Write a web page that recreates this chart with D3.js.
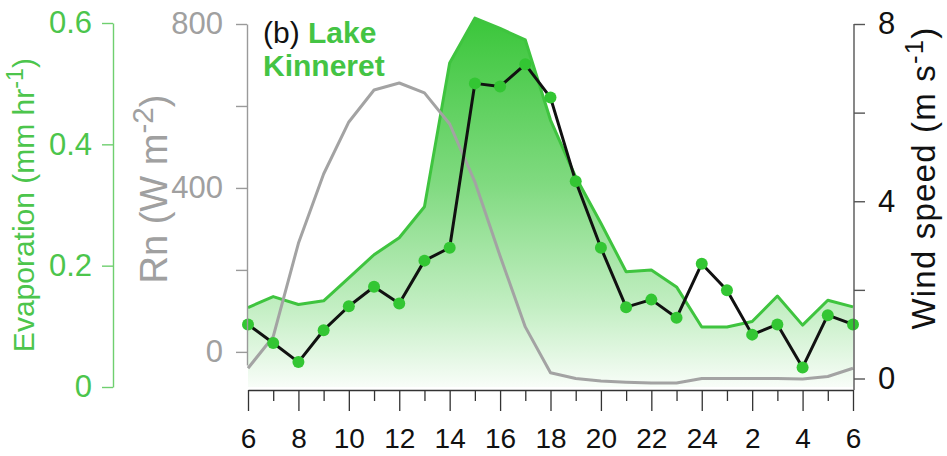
<!DOCTYPE html>
<html>
<head>
<meta charset="utf-8">
<script src="https://cdn.jsdelivr.net/npm/d3@7"></script>
<style>
  html, body { margin: 0; padding: 0; background: #fff; }
  svg { display: block; font-family: "Liberation Sans", Arial, sans-serif; }
</style>
</head>
<body>
<svg id="chart" width="947" height="456"></svg>
<script>
// Hour of day, 06:00 through 06:00 the next morning
const hours = [6, 7, 8, 9, 10, 11, 12, 13, 14, 15, 16, 17, 18, 19, 20, 21, 22, 23, 24, 1, 2, 3, 4, 5, 6];
// Evaporation (mm hr-1)
const evaporation = [0.131, 0.149, 0.136, 0.142, 0.180, 0.218, 0.246, 0.297, 0.534, 0.608, 0.591, 0.572, 0.440,
                     0.346, 0.270, 0.190, 0.193, 0.165, 0.099, 0.099, 0.108, 0.150, 0.102, 0.143, 0.132];
// Net radiation Rn (W m-2)
const netRadiation = [-40, 37, 265, 434, 561, 639, 656, 632, 556, 415, 234, 61, -51,
                      -65, -71, -74, -76, -76, -65, -65, -65, -65, -66, -60, -40];
// Wind speed (m s-1)
const windSpeed = [1.22, 0.80, 0.37, 1.09, 1.63, 2.07, 1.69, 2.66, 2.95, 6.66, 6.59, 7.09, 6.34,
                   4.45, 2.95, 1.61, 1.78, 1.37, 2.59, 1.99, 0.99, 1.22, 0.25, 1.43, 1.22];
// Axis ticks
const evapTicks = [0, 0.2, 0.4, 0.6];
const rnTicks = [0, 200, 400, 600, 800];
const rnLabelled = [0, 400, 800];
const windTicks = [0, 2, 4, 6, 8];
const windLabelled = [0, 4, 8];

const svg = d3.select("#chart");
const idx = hours.map((h, i) => i);

const x = d3.scaleLinear().domain([0, hours.length - 1]).range([248, 853]);
const yE = d3.scaleLinear().domain([0, 0.6]).range([387, 23]);
const yRn = d3.scaleLinear().domain([-32, 800]).range([365, 24]);
const yW = d3.scaleLinear().domain([0, 8]).range([378.5, 24]);

const green = "#3fc43f";
const dotGreen = "#33c633";
const grey = "#a3a3a3";
const font = "Liberation Sans, Arial, sans-serif";

// Vertical gradient for the evaporation area
const defs = svg.append("defs");
const grad = defs.append("linearGradient")
  .attr("id", "evapFill").attr("gradientUnits", "userSpaceOnUse")
  .attr("x1", 0).attr("x2", 0).attr("y1", yE(0.61)).attr("y2", yE(0));
[[0, "rgb(58,198,58)"], [0.45, "rgb(128,218,128)"], [0.78, "rgb(194,238,194)"], [1, "rgb(248,253,248)"]]
  .forEach(([o, c]) => grad.append("stop").attr("offset", o).attr("stop-color", c));

// Evaporation area and line
svg.append("path")
  .datum(idx)
  .attr("fill", "url(#evapFill)")
  .attr("d", d3.area().x(i => x(i)).y0(yE(0)).y1(i => yE(evaporation[i])));
svg.append("path")
  .datum(idx)
  .attr("fill", "none").attr("stroke", green).attr("stroke-width", 3).attr("stroke-linejoin", "round")
  .attr("d", d3.line().x(i => x(i)).y(i => yE(evaporation[i])));

// Net radiation line
svg.append("path")
  .datum(idx)
  .attr("fill", "none").attr("stroke", grey).attr("stroke-width", 3).attr("stroke-linejoin", "round")
  .attr("d", d3.line().x(i => x(i)).y(i => yRn(netRadiation[i])));

// Wind speed line with markers
svg.append("path")
  .datum(idx)
  .attr("fill", "none").attr("stroke", "#111").attr("stroke-width", 3).attr("stroke-linejoin", "round")
  .attr("d", d3.line().x(i => x(i)).y(i => yW(windSpeed[i])));
svg.append("g").selectAll("circle").data(idx).join("circle")
  .attr("cx", i => x(i)).attr("cy", i => yW(windSpeed[i])).attr("r", 6)
  .attr("fill", dotGreen);

// Bottom time axis: labelled every 2 h, minor ticks on odd hours
const majorIdx = idx.filter(i => i % 2 === 0);
const minorIdx = idx.filter(i => i % 2 === 1);
const xAxisG = svg.append("g").attr("transform", "translate(0,390)");
xAxisG.call(d3.axisBottom(x).tickValues(majorIdx).tickSize(21).tickSizeOuter(0)
  .tickFormat(i => hours[i]));
xAxisG.append("g").call(d3.axisBottom(x).tickValues(minorIdx).tickSize(11).tickSizeOuter(0).tickFormat(""))
  .select(".domain").remove();
xAxisG.selectAll("path, line").attr("stroke", "#333").attr("stroke-width", 1.3);
xAxisG.selectAll("text").attr("font-size", 28).attr("fill", "#111").attr("y", 58).attr("dy", 0)
  .attr("font-family", font);

// Evaporation axis (left, green)
const eAxis = svg.append("g").attr("transform", "translate(113,0)")
  .call(d3.axisLeft(yE).tickValues(evapTicks).tickSize(11).tickSizeOuter(0).tickPadding(10)
    .tickFormat(d => d === 0 ? "0" : d3.format(".1f")(d)));
eAxis.selectAll("path, line").attr("stroke", "#6fcf6f").attr("stroke-width", 1.4);
eAxis.selectAll("text").attr("font-size", 31).attr("fill", "#4cc54c").attr("font-family", font);

// Net radiation axis (left, grey)
const rAxis = svg.append("g").attr("transform", "translate(247,0)")
  .call(d3.axisLeft(yRn).tickValues(rnTicks).tickSize(11).tickSizeOuter(0).tickPadding(13)
    .tickFormat(d => rnLabelled.includes(d) ? d : ""));
rAxis.selectAll("path, line").attr("stroke", "#9a9a9a").attr("stroke-width", 1.4);
rAxis.selectAll("text").attr("font-size", 31).attr("fill", "#a0a0a0").attr("font-family", font);

// Wind speed axis (right, dark)
const wAxis = svg.append("g").attr("transform", "translate(854,0)")
  .call(d3.axisRight(yW).tickValues(windTicks).tickSize(11).tickSizeOuter(0).tickPadding(13)
    .tickFormat(d => windLabelled.includes(d) ? d : ""));
wAxis.selectAll("path, line").attr("stroke", "#555").attr("stroke-width", 1.4);
wAxis.select(".domain").attr("d", `M0,${yW(8)}V390`);
wAxis.selectAll("text").attr("font-size", 31).attr("fill", "#111").attr("font-family", font);

// Axis titles with superscript units; (bx, cy) is the baseline x and the vertical centre
function rotatedTitle(bx, cy, size, color, main, sup, spacing) {
  const t = svg.append("text")
    .attr("transform", `translate(${bx},${cy}) rotate(-90)`)
    .attr("text-anchor", "middle")
    .attr("letter-spacing", spacing || 0)
    .attr("font-size", size).attr("fill", color);
  t.append("tspan").text(main);
  t.append("tspan").attr("font-size", size * 0.78).attr("dy", -size * 0.36).text(sup);
  t.append("tspan").attr("dy", size * 0.36).text(")");
}
rotatedTitle(34, 205, 30, "#4cc54c", "Evaporation (mm hr", "-1");
rotatedTitle(167, 189, 38, "#a0a0a0", "Rn (W m", "-2");
rotatedTitle(935, 178, 33, "#111", "Wind speed (m s", "-1", 1.2);

// Panel title
const title = svg.append("text").attr("x", 263).attr("y", 43).attr("font-size", 30);
title.append("tspan").attr("fill", "#111").text("(b) ");
title.append("tspan").attr("fill", "#44c444").attr("font-weight", "bold").text("Lake");
svg.append("text").attr("x", 263).attr("y", 76).attr("font-size", 30)
  .attr("fill", "#44c444").attr("font-weight", "bold").text("Kinneret");
</script>
</body>
</html>
